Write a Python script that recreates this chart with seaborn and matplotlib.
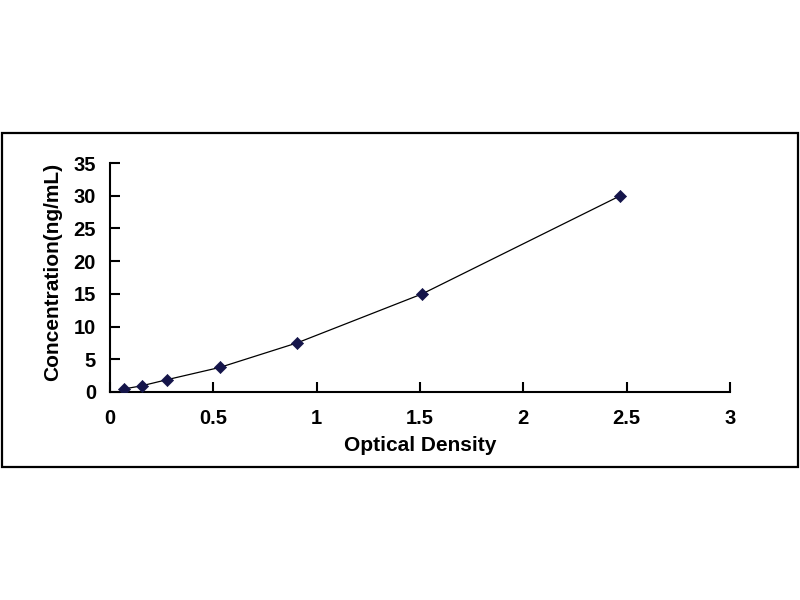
import matplotlib
matplotlib.use("Agg")
import matplotlib.pyplot as plt
import seaborn as sns
import pandas as pd
from matplotlib.patches import Rectangle

optical_density = [0.068, 0.153, 0.276, 0.531, 0.905, 1.511, 2.469]
concentration = [0.47, 0.94, 1.88, 3.75, 7.5, 15.0, 30.0]
x_ticks = [0, 0.5, 1, 1.5, 2, 2.5, 3]
x_tick_labels = ["0", "0.5", "1", "1.5", "2", "2.5", "3"]
y_ticks = [0, 5, 10, 15, 20, 25, 30, 35]
y_tick_labels = ["0", "5", "10", "15", "20", "25", "30", "35"]

df = pd.DataFrame({"od": optical_density, "conc": concentration})

sns.set_theme(style="white")
plt.rcParams["font.family"] = ["Liberation Sans", "DejaVu Sans"]
plt.rcParams["font.weight"] = "bold"
plt.rcParams["text.color"] = "black"
plt.rcParams["axes.labelcolor"] = "black"

fig = plt.figure(figsize=(8, 6), dpi=100)
fig.patch.set_facecolor("white")
ax = fig.add_axes([0.1375, 0.3467, 0.775, 0.3816])

sns.lineplot(data=df, x="od", y="conc", ax=ax, color="black", linewidth=0.9,
             sort=True, zorder=2)
sns.scatterplot(data=df, x="od", y="conc", ax=ax, marker="D", s=38,
                color="#15154a", edgecolor="#15154a", linewidth=0.5, zorder=3)

ax.set_xlim(0, 3)
ax.set_ylim(0, 35)
ax.set_xticks(x_ticks)
ax.set_xticklabels(x_tick_labels)
ax.set_yticks(y_ticks)
ax.set_yticklabels(y_tick_labels)
ax.tick_params(axis="both", direction="in", length=7, width=1.5, colors="black",
               labelcolor="black", labelsize=14.5, bottom=True, left=True)
ax.tick_params(axis="x", pad=12)
ax.tick_params(axis="y", pad=10)
for lab in ax.get_xticklabels() + ax.get_yticklabels():
    lab.set_fontweight("bold")

for s in ["top", "right"]:
    ax.spines[s].set_visible(False)
for s in ["left", "bottom"]:
    ax.spines[s].set_color("black")
    ax.spines[s].set_linewidth(1.5)

ax.set_xlabel("Optical Density", fontsize=15, fontweight="bold", labelpad=6,
              color="black")
ax.set_ylabel("Concentration(ng/mL)", fontsize=15, fontweight="bold",
              color="black")
ax.yaxis.set_label_coords(-0.078, 0.525)
ax.set_facecolor("white")

fig.patches.append(Rectangle((0.002, 0.2217), 0.995, 0.5567, transform=fig.transFigure,
                             fill=False, edgecolor="black", linewidth=1.6))

fig.savefig("out.png", dpi=100, facecolor="white")
